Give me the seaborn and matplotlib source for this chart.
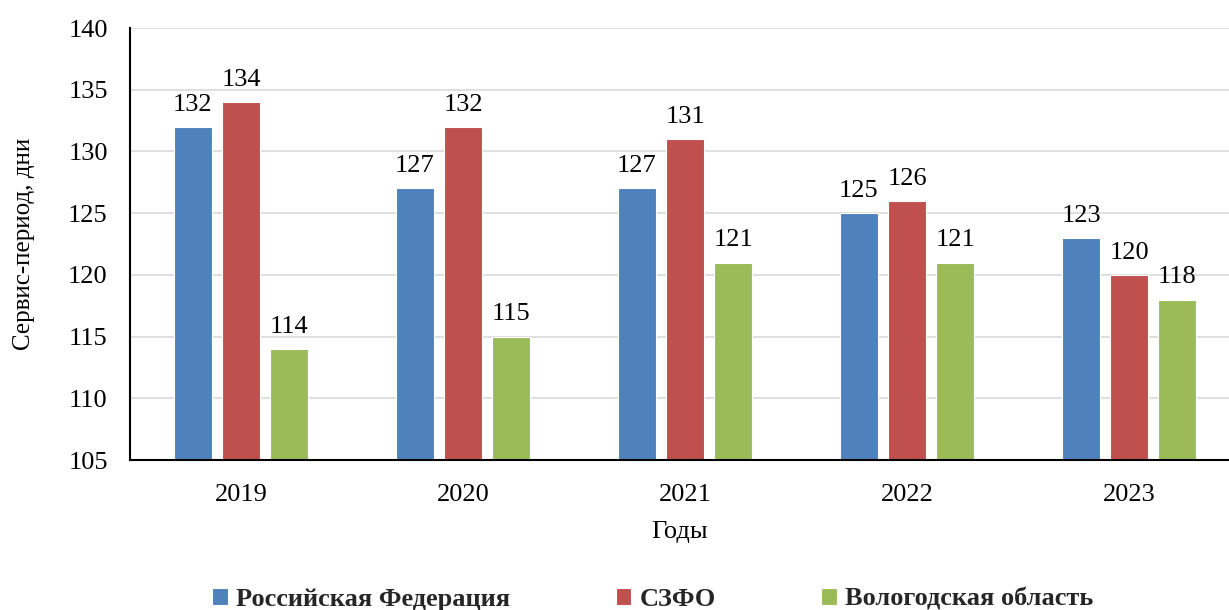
import matplotlib
matplotlib.use("Agg")
import matplotlib.pyplot as plt
import seaborn as sns
import pandas as pd

years = ["2019", "2020", "2021", "2022", "2023"]
series_names = ["Российская Федерация", "СЗФО", "Вологодская область"]
rf = [132, 127, 127, 125, 123]
szfo = [134, 132, 131, 126, 120]
vologda = [114, 115, 121, 121, 118]
colors = ["#4F81BD", "#C0504D", "#9BBB59"]

sns.set_theme(style="white")
plt.rcParams['font.family'] = ['Liberation Serif', 'DejaVu Serif']

rows = []
for name, vals in zip(series_names, [rf, szfo, vologda]):
    for y, v in zip(years, vals):
        rows.append({"Год": y, "Серия": name, "Значение": v})
df = pd.DataFrame(rows)

fig = plt.figure(figsize=(12.29, 6.10), dpi=100)
ax = fig.add_axes([130/1229, 1-460/610, 1-130/1229, (460-28)/610])

sns.barplot(data=df, x="Год", y="Значение", hue="Серия", palette=colors,
            saturation=1, width=0.65, edgecolor="white", linewidth=0.8,
            ax=ax, legend=True)

# narrow each bar inside its slot, leaving a gap
for cont in ax.containers:
    for p in cont.patches:
        w = p.get_width()
        nw = w * 0.8
        p.set_x(p.get_x() + (w - nw) / 2)
        p.set_width(nw)

ax.set_ylim(105, 140)
ax.set_yticks(range(105, 141, 5))
ax.set_xlim(-0.5, 4.45)
ax.yaxis.grid(True, color="#D9D9D9", linewidth=1.2)
ax.set_axisbelow(True)
for s in ["top", "right"]:
    ax.spines[s].set_visible(False)
for s in ["left", "bottom"]:
    ax.spines[s].set_color("black")
    ax.spines[s].set_linewidth(1.5)
ax.tick_params(axis="y", length=0, labelsize=19, colors="black", pad=16)
ax.tick_params(axis="x", length=0, labelsize=19, colors="black", pad=17)
ax.set_xlabel("Годы", fontsize=19, color="black", labelpad=11)
ax.set_ylabel("Сервис-период, дни", fontsize=18, color="black", labelpad=24)

for cont in ax.containers:
    ax.bar_label(cont, fontsize=19, padding=8, color="black")

handles, labels = ax.get_legend_handles_labels()
ax.get_legend().remove()
fig.legend(handles, labels, loc="lower center", bbox_to_anchor=(0.531, -0.04),
           ncol=3, frameon=False, prop={"weight": "bold", "size": 19},
           handlelength=0.6, handleheight=0.6, handletextpad=0.3, columnspacing=4.0)

fig.savefig("out.png", dpi=100)
